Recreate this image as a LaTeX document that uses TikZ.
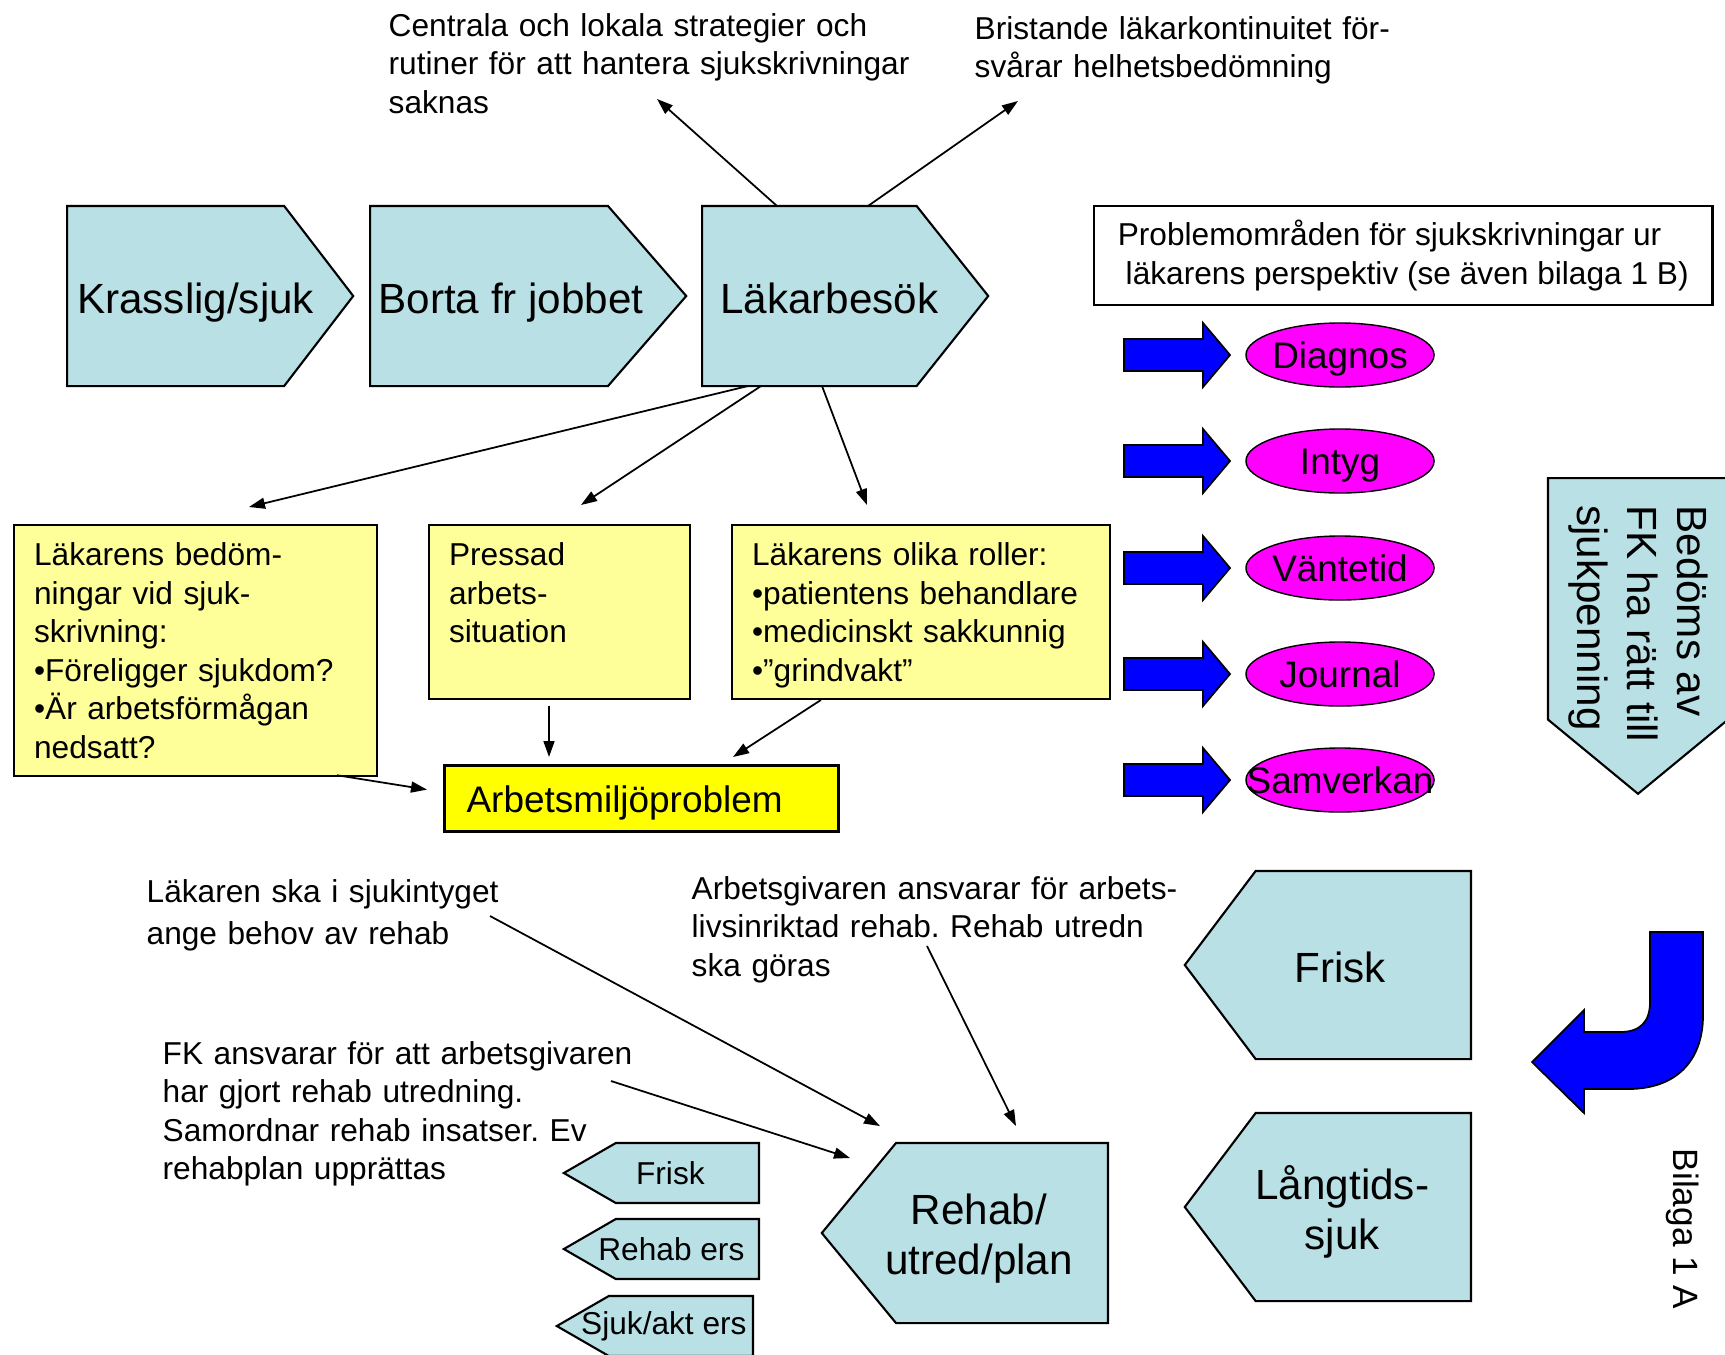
\documentclass[tikz,border=0pt]{standalone}
\usepackage{fontspec}
\setmainfont{Liberation Sans}
\usetikzlibrary{shapes.geometric,shapes.symbols,arrows.meta,calc}
\definecolor{tealbg}{RGB}{185,224,228}
\definecolor{paleyel}{RGB}{255,255,153}
\definecolor{brightyel}{RGB}{255,255,0}
\definecolor{ovalpink}{RGB}{255,0,255}
\definecolor{blockblue}{RGB}{0,0,255}
\frenchspacing
\tikzset{big/.style={font=\fontsize{12}{14.2}\selectfont},
 med/.style={font=\fontsize{9}{10.96}\selectfont},
 sigtxt/.style={big,text height=10pt,text depth=0pt},
 sig/.style={signal,draw,fill=tealbg,line width=.6pt,minimum height=1.8cm,minimum width=2.86cm},
 sigR/.style={sig,signal to=east,anchor=west,signal pointer angle=104},
 sigL/.style={sig,signal to=west,anchor=east,signal pointer angle=103},
 sigS/.style={sig,signal to=west,anchor=east,minimum height=.6cm,minimum width=1.95cm,signal pointer angle=60},
 ybox/.style={draw,fill=paleyel,line width=.6pt,anchor=north west,align=left,inner xsep=.2cm,inner ysep=5pt,med},
 note/.style={med,align=left,anchor=base west,inner sep=0pt},
 oval/.style={draw,ellipse,fill=ovalpink,minimum width=1.88cm,minimum height=.64cm,inner sep=0pt,text height=7.5pt,text depth=0pt,
  font=\fontsize{10.5}{12}\selectfont,execute at begin node={\hbox to 0pt\bgroup\hss},execute at end node={\hss\egroup}},
 arr/.style={-{Triangle[length=1.6mm,width=1.1mm]},line width=.5pt},
 blk/.style={draw,fill=blockblue,line width=.5pt}}

\begin{document}
\begin{tikzpicture}[x=.01cm,y=-.01cm]
\useasboundingbox (0,0) rectangle (1725,1354);
% steps
\node[sigR,signal pointer angle=105,label={[sigtxt,xshift=.2cm]center:Krasslig/sjuk}](kras) at(66,296){};
\node[sigR,minimum width=3.16cm,signal pointer angle=98,label={[sigtxt,xshift=.22cm]center:Borta fr jobbet}](borta) at(369,296){};
\node[sigR,signal pointer angle=103,label={[sigtxt,xshift=.2cm]center:Läkarbesök}](lak) at(701,296){};
\node[note,text width=6cm](strat) at(388,36){Centrala och lokala strategier och\\rutiner för att hantera sjukskrivningar\\saknas};
\node[note,text width=4.6cm](kont) at(974,39){Bristande läkarkontinuitet för-\\svårar helhetsbedömning};
\draw[arr]($(lak.west)+(76,-90)$)--($(strat.base west)+(269,63)$);
\draw[arr]($(lak.west)+(167,-90)$)--($(kont.base west)+(44,62)$);
% yellow boxes
\node[ybox,text width=3.23cm](bed) at(13,524){Läkarens bedöm-\\ningar vid sjuk-\\skrivning:\\•Föreligger sjukdom?\\•Är arbetsförmågan\\nedsatt?};
\node[ybox,text width=2.21cm,text depth=1.16cm](press) at(428,524){Pressad\\arbets-\\situation};
\node[ybox,text width=3.38cm,text depth=32.9pt](roll) at(731,524){Läkarens olika roller:\\•patientens behandlare\\•medicinskt sakkunnig\\•”grindvakt”};
\node[draw,fill=brightyel,line width=.9pt,anchor=north west,minimum height=.66cm,text width=3.5cm,inner xsep=.22cm,
 text height=8pt,text depth=0pt,align=left,font=\fontsize{10.5}{12}\selectfont](arb) at(443,764){Arbetsmiljöproblem};
\draw[arr]($(lak.west)+(47,90)$)--($(bed.north west)+(236,-17)$);
\draw[arr]($(lak.west)+(60,90)$)--($(press.north west)+(153,-19)$);
\draw[arr]($(lak.west)+(121,90)$)--($(roll.north west)+(136,-19)$);
\draw[arr]($(bed.south west)+(324,-2)$)--($(arb.west)+(-16,-9)$);
\draw[arr]($(press.south west)+(121,6)$)--($(arb.north west)+(106,-7)$);
\draw[arr]($(roll.south west)+(90,0)$)--($(arb.north west)+(290,-7)$);
% problem areas
\node[draw,line width=.6pt,anchor=north west,minimum height=.99cm,minimum width=6.18cm,align=left,med](prob)
 at(1093,205){Problemområden för sjukskrivningar ur\\\hspace*{.25em}läkarens perspektiv (se även bilaga 1 B)};
\foreach \y in {355,461,568,674,780}
 \draw[blk](1124,\y-16)--(1203,\y-16)--(1203,\y-32)--(1230,\y)--(1203,\y+32)--(1203,\y+16)--(1124,\y+16)--cycle;
\node[oval](diag) at(1340,355){Diagnos};
\node[oval](intyg) at(1340,461){Intyg};
\node[oval](vant) at(1340,568){Väntetid};
\node[oval](journ) at(1340,674){Journal};
\node[oval](samv) at(1340,780){Samverkan};
\node[sig,signal to=south,anchor=north,minimum width=1.8cm,minimum height=2.51cm,signal pointer angle=101,
 label={[big,yshift=-.25cm,rotate=-90,align=left]center:Bedöms av\\FK ha rätt till\\sjukpenning}](fkbed) at(1638,477){};
% outcomes
\node[sigL,minimum height=1.88cm,signal pointer angle=106,label={[sigtxt,xshift=-.23cm]center:Frisk}](frisk) at(1472,965){};
\node[sigL,minimum height=1.88cm,signal pointer angle=106,label={[big,xshift=-.21cm,yshift=-.05cm,align=center]center:Långtids-\\sjuk}](lang) at(1472,1207){};
\draw[blk](1703,932)--(1703,1015)..controls(1703,1062)and(1675,1089)..(1628,1089)--(1584,1089)--(1584,1113)--(1532,1062)
 --(1584,1010)--(1584,1032)--(1620,1032)..controls(1640,1032)and(1650,1022)..(1650,1002)--(1650,932)--cycle;
\node[rotate=-90,font=\fontsize{10}{12}\selectfont](bil) at(1683,1229){Bilaga 1 A};
% rehab
\node[sigL,signal pointer angle=101,label={[big,xshift=-.23cm,yshift=-.055cm,align=center]center:Rehab/\\utred/plan}](rehab) at(1109,1233){};
\node[sigS,label={[med,xshift=-.17cm]center:Frisk}](sfrisk) at(760,1173){};
\node[sigS,label={[med,xshift=-.16cm]center:Rehab ers}](srehab) at(760,1249){};
\node[sigS,minimum width=1.96cm,label={[med,xshift=-.17cm]center:Sjuk/akt ers}](ssjuk) at(754,1326){};
\node[note,text width=4.3cm,font=\fontsize{9}{11.95}\selectfont](lakska) at(146,902){Läkaren ska i sjukintyget\\ange behov av rehab};
\node[note,text width=5.2cm](agiv) at(691,899){Arbetsgivaren ansvarar för arbets-\\livsinriktad rehab. Rehab utredn\\ska göras};
\node[note,text width=5cm](fkans) at(162,1064){FK ansvarar för att arbetsgivaren\\har gjort rehab utredning.\\Samordnar rehab insatser. Ev\\rehabplan upprättas};
\draw[arr]($(lakska.base west)+(344,14)$)--($(rehab.east)+(-229,-107)$);
\draw[arr]($(agiv.base west)+(236,47)$)--($(rehab.east)+(-93,-107)$);
\draw[arr]($(fkans.base west)+(449,17)$)--($(rehab.east)+(-259,-75)$);
\end{tikzpicture}
\end{document}
